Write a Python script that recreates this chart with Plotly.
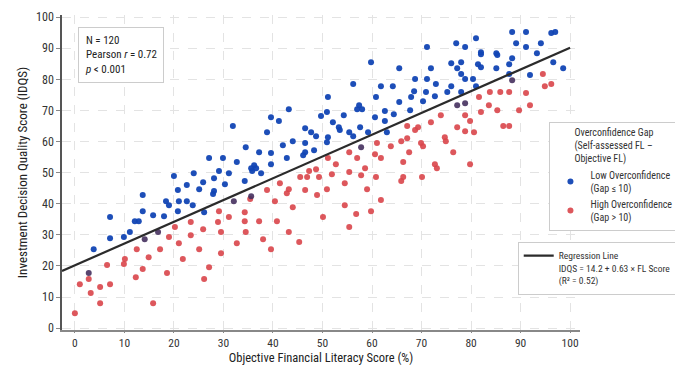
import plotly.graph_objects as go

# ---- data ----
low_x = [24.0, 20.0, 22.6, 20.8, 21.0, 22.6, 18.4, 19.0, 23.8, 13.7, 7.1, 13.7, 15.8, 18.0, 20.8, 12.1, 12.9, 11.1, 7.1, 9.9, 3.8,
         29.1, 31.1, 28.1, 25.9, 30.3, 25.1, 28.1, 27.9, 34.3, 26.1, 35.8, 37.6,
         43.2, 39.6, 41.2, 31.9, 38.8, 49.7, 46.5, 47.7, 48.7, 34.5, 42.0, 44.0, 46.5, 37.2, 39.6, 46.5, 46.1, 48.3, 42.8, 27.1, 29.9, 32.7, 39.6, 36.2, 35.6, 36.6,
         71.1, 59.8, 65.5, 71.9, 76.0, 68.7, 71.1, 56.2, 61.8, 64.2, 72.9, 76.0, 68.5, 70.9, 75.2, 72.7, 51.1, 60.8, 67.9, 65.5, 70.3, 57.4, 57.0, 58.0, 50.9, 54.3,
         62.6, 67.7, 64.4, 60.6, 52.1, 62.6, 53.3, 53.5, 57.6, 55.4, 56.2, 59.2, 63.0, 51.1, 50.9,
         88.3, 91.1, 96.2, 97.0, 81.0, 77.0, 89.1, 94.1, 78.8, 91.1, 82.0, 82.0, 85.1, 85.3, 93.3, 88.3, 78.0, 81.4, 82.0, 87.7, 96.6, 77.2, 85.1, 98.6,
         78.0, 78.8, 80.4, 87.7, 91.9, 81.0, 78.0]
low_y = [49.8, 48.9, 46.0, 44.4, 40.8, 40.8, 40.8, 39.5, 39.5, 42.8, 35.7, 37.6, 36.3, 36.0, 37.6, 34.4, 34.4, 30.9, 28.9, 29.3, 25.4,
         50.5, 49.8, 48.2, 46.9, 46.3, 44.7, 44.1, 43.1, 47.3, 37.3, 50.5, 49.8,
         70.4, 67.8, 66.6, 65.0, 63.0, 68.2, 64.3, 63.0, 61.7, 58.2, 58.8, 60.1, 59.5, 56.6, 56.3, 56.6, 55.6, 57.2, 54.7, 54.7, 54.7, 53.4, 52.7, 52.4, 51.4, 51.4,
         90.4, 85.5, 83.6, 83.6, 85.2, 80.1, 80.1, 78.5, 77.8, 77.8, 78.5, 77.8, 76.2, 75.9, 75.9, 74.6, 74.3, 74.3, 74.3, 72.7, 73.0, 71.7, 70.4, 70.4, 69.5, 68.5,
         69.8, 70.1, 68.8, 67.8, 66.2, 66.6, 64.6, 63.7, 64.6, 63.0, 61.7, 63.0, 63.0, 61.4, 59.8,
         95.2, 95.2, 94.9, 95.2, 93.2, 91.6, 91.6, 91.6, 90.4, 90.4, 88.7, 88.1, 88.4, 87.8, 88.4, 86.8, 85.5, 84.9, 83.9, 84.9, 85.5, 83.6, 83.6, 83.6,
         81.7, 80.1, 80.1, 81.7, 81.4, 77.8, 75.9]

high_x = [20.2, 23.4, 19.0, 21.0, 23.4, 12.5, 17.2, 14.9, 21.8, 10.1, 6.5, 9.9, 13.7, 18.6, 12.3, 2.8, 1.0, 7.1, 5.1, 3.2, 5.1, 15.8, 0.0,
          38.8, 41.4, 43.2, 42.8, 45.5, 46.9, 49.3, 47.3, 46.5, 48.9, 40.4, 35.4, 44.0, 29.1, 34.3, 31.1, 28.9, 34.3, 37.2, 40.8, 50.1,
          25.9, 29.5, 34.5, 43.2, 38.0, 32.7, 45.3, 25.1, 39.6, 29.5, 27.1, 26.1, 48.7,
          73.9, 71.9, 67.1, 68.7, 69.3, 61.0, 65.9, 63.8, 67.1, 69.9, 70.3, 74.7, 74.9, 76.4, 55.4, 60.6, 61.8, 67.5, 57.0, 51.1,
          52.7, 66.3, 72.7, 73.1, 58.6, 55.4, 51.9,
          57.8, 60.8, 65.9, 66.3, 70.1, 50.9, 54.5, 59.0, 61.8, 54.5, 56.8, 59.8, 55.4,
          94.5, 96.2, 94.9, 83.8, 85.9, 87.7, 91.1, 81.6, 83.6, 85.3, 82.0, 89.7, 91.9, 78.8, 79.8, 77.2, 78.8, 80.6, 86.5, 87.7, 79.8]
high_y = [32.5, 34.1, 29.3, 27.3, 29.9, 25.4, 25.4, 22.8, 22.2, 22.2, 20.3, 20.6, 19.0, 17.7, 16.4, 15.8, 14.1, 14.1, 13.2, 11.3, 8.0, 8.0, 4.8,
          44.4, 46.6, 44.7, 43.4, 48.6, 48.6, 48.6, 50.5, 44.4, 42.8, 40.8, 41.5, 38.9, 37.6, 37.3, 35.7, 34.1, 34.4, 34.4, 34.4, 35.7,
          31.8, 30.9, 30.9, 30.9, 28.6, 27.3, 27.7, 25.4, 25.4, 24.1, 19.6, 15.8, 51.1,
          68.5, 66.2, 65.0, 63.7, 64.6, 59.5, 60.1, 58.5, 61.1, 59.5, 58.5, 61.4, 60.1, 56.6, 56.6, 55.9, 54.7, 56.6, 54.7, 54.7,
          52.7, 53.4, 52.7, 51.4, 51.4, 50.2, 49.5,
          49.2, 48.6, 47.3, 48.6, 48.6, 44.7, 46.6, 44.7, 41.2, 39.5, 36.7, 37.6, 32.5,
          81.7, 78.5, 77.8, 75.9, 75.9, 75.9, 75.6, 74.3, 71.7, 70.1, 69.5, 70.1, 71.7, 68.5, 66.6, 64.6, 63.3, 63.0, 65.0, 65.0, 52.7]

# points where markers of both groups overlap (appear dark)
overlap_x = [2.8, 16.8, 14.1, 32.1, 35.6, 57.8, 88.3, 77.2, 78.8]
overlap_y = [17.7, 30.9, 28.6, 40.8, 42.4, 58.2, 79.7, 71.7, 72.3]

reg_intercept = 20.2
reg_slope = 0.70
reg_x = [-2.6, 100.0]
reg_y = [reg_intercept + reg_slope * v for v in reg_x]

x_ticks = [0, 10, 20, 30, 40, 50, 60, 70, 80, 90, 100]
y_ticks = [0, 10, 20, 30, 40, 50, 60, 70, 80, 90, 100]

FONT = "Liberation Sans Narrow, Roboto Condensed, DejaVu Sans Condensed, Roboto, sans-serif"
BLUE = "#1144b4"
RED = "#d9454a"

fig = go.Figure()
fig.add_trace(go.Scatter(
    x=low_x, y=low_y, mode="markers",
    name="Low Overconfidence<br>(Gap ≤ 10)",
    marker=dict(color=BLUE, size=6, opacity=0.95, line=dict(width=0)),
    legend="legend"))
fig.add_trace(go.Scatter(
    x=high_x, y=high_y, mode="markers",
    name="High Overconfidence<br>(Gap > 10)",
    marker=dict(color=RED, size=6, opacity=0.9, line=dict(width=0)),
    legend="legend"))
fig.add_trace(go.Scatter(
    x=overlap_x, y=overlap_y, mode="markers", showlegend=False,
    marker=dict(color="#45305e", size=6, opacity=0.9, line=dict(width=0))))
fig.add_trace(go.Scatter(
    x=reg_x, y=reg_y, mode="lines",
    name="Regression Line<br>IDQS = 14.2 + 0.63 × FL Score<br>(R² = 0.52)",
    line=dict(color="#2b2b2b", width=2.2),
    legend="legend2"))

fig.update_layout(
    width=675, height=365,
    margin=dict(l=62, r=95, t=15, b=35, autoexpand=False),
    paper_bgcolor="white", plot_bgcolor="white",
    font=dict(family=FONT, size=12, color="#333333"),
    legend=dict(
        title=dict(text="Overconfidence Gap<br>(Self-assessed FL –<br>Objective FL)",
                   side="top center", font=dict(size=10, color="#333333")),
        xref="container", yref="container",
        x=0.814, y=0.666, xanchor="left", yanchor="top",
        bgcolor="white", bordercolor="#cccccc", borderwidth=1,
        font=dict(size=10, color="#333333"),
        itemsizing="trace", tracegroupgap=2, itemwidth=30),
    legend2=dict(
        xref="container", yref="container",
        x=0.767, y=0.337, xanchor="left", yanchor="top",
        bgcolor="white", bordercolor="#cccccc", borderwidth=1,
        font=dict(size=9.5, color="#333333"), valign="top", itemwidth=30),
)

fig.update_xaxes(
    range=[-2.6, 102], tickvals=x_ticks, ticktext=[str(v) for v in x_ticks],
    showline=True, linecolor="#888888", linewidth=1.5,
    ticks="outside", ticklen=1, tickcolor="#888888",
    showgrid=True, gridcolor="#e3e3e3", griddash="dash", gridwidth=1,
    zeroline=False, tickfont=dict(size=11.5, color="#333333"), automargin=False,
    title=dict(text="Objective Financial Literacy Score (%)", font=dict(size=12.5, color="#222222"), standoff=4))
fig.update_yaxes(
    range=[-0.6, 100.7], tickvals=y_ticks, ticktext=[str(v) for v in y_ticks],
    showline=True, linecolor="#555555", linewidth=1.5,
    ticks="outside", ticklen=4, tickcolor="#888888",
    showgrid=True, gridcolor="#e3e3e3", griddash="dash", gridwidth=1,
    zeroline=False, tickfont=dict(size=12, color="#333333"), automargin=False,
    title=dict(text="Investment Decision Quality Score (IDQS)", font=dict(size=13, color="#222222"), standoff=6))

fig.add_annotation(
    xref="paper", yref="paper", x=0.031, y=0.962, xanchor="left", yanchor="top",
    text="N = 120<br>Pearson <i>r</i> = 0.72<br><i>p</i> < 0.001",
    showarrow=False, align="left", font=dict(size=11, color="#222222"),
    bgcolor="white", bordercolor="#cccccc", borderwidth=1, borderpad=6)

fig.write_html("out.html", config={"displayModeBar": False},
               post_script="document.body.style.margin='0px';document.body.style.overflow='hidden';")
